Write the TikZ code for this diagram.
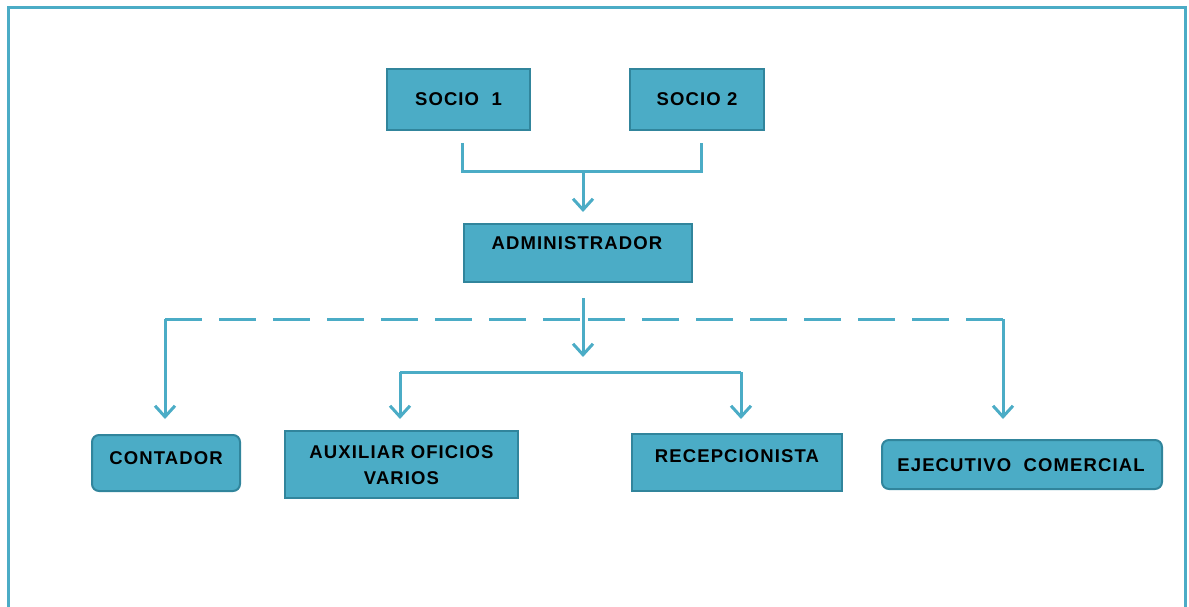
\documentclass[tikz,border=0pt]{standalone}
\usepackage{fontspec}
\setmainfont{Liberation Sans}
\usetikzlibrary{arrows.meta}
\definecolor{boxfill}{HTML}{4BACC6}
\definecolor{boxline}{HTML}{31859C}
\definecolor{conn}{HTML}{4BACC6}
\tikzset{
  box/.style={draw=boxline, fill=boxfill, line width=2pt, inner sep=0pt},
  rbox/.style={box, rounded corners=7pt},
  lbl/.style={font=\fontsize{18.5}{26}\selectfont\bfseries\addfontfeatures{LetterSpace=6}, text=black, align=center},
  conline/.style={draw=conn, line width=3pt},
  arr/.style={conline, -{Straight Barb[length=11pt,width=20pt,line width=3pt]}},
  dline/.style={conline, dash pattern=on 37pt off 17pt},
}
\begin{document}
\begin{tikzpicture}[x=1pt,y=-1pt]
\useasboundingbox (0,0) rectangle (1189,607);
\draw[draw=conn, line width=3pt] (8,8) rectangle (1185,640);
% boxes
\node[box, minimum width=143, minimum height=61] (s1) at (458.5,99.5) {};
\node[lbl] (s1t) at (458.5,99) {SOCIO\ \ 1};
\node[box, minimum width=134, minimum height=61] (s2) at (697,99.5) {};
\node[lbl] (s2t) at (697,99) {SOCIO 2};
\node[box, minimum width=228, minimum height=58] (adm) at (578,253) {};
\node[lbl] (admt) at (577,243) {ADMINISTRADOR};
\node[rbox, minimum width=148, minimum height=56] (cont) at (166,463) {};
\node[lbl] (contt) at (166,458) {CONTADOR};
\node[box, minimum width=233, minimum height=67] (aux) at (401.5,464.5) {};
\node[lbl, text width=230] (auxt) at (401.5,465) {AUXILIAR OFICIOS\\VARIOS};
\node[box, minimum width=210, minimum height=57] (rec) at (737,462.5) {};
\node[lbl] (rect) at (737,456) {RECEPCIONISTA};
\node[rbox, minimum width=280, minimum height=49] (eje) at (1022,464.5) {};
\node[lbl] (ejet) at (1021,465) {EJECUTIVO\ \ COMERCIAL};
% connector coordinates
\coordinate (a1) at (462,143);
\coordinate (a2) at (462,172);
\coordinate (b1) at (701,143);
\coordinate (b2) at (701,172);
\coordinate (m1) at (583,172);
\coordinate (m2) at (583,212);
\coordinate (d0) at (583,298);
\coordinate (d1) at (583,357);
\coordinate (dl) at (165,319);
\coordinate (dr) at (1003,319);
\coordinate (dm) at (583,319);
\coordinate (dl2) at (165,419);
\coordinate (dr2) at (1003,419);
\coordinate (h1) at (400,372);
\coordinate (h2) at (741,372);
\coordinate (h1b) at (400,419);
\coordinate (h2b) at (741,419);
% connectors
\draw[conline] (a1) -- (a2) -- (b2) -- (b1);
\draw[arr] (m1) -- (m2);
\draw[arr] (d0) -- (d1);
\draw[dline] (dl) -- (dm);
\draw[dline] (dr) -- (dm);
\draw[arr] (dl) -- (dl2);
\draw[arr] (dr) -- (dr2);
\draw[conline] (h1) -- (h2);
\draw[arr] (h1) -- (h1b);
\draw[arr] (h2) -- (h2b);
\end{tikzpicture}
\end{document}
